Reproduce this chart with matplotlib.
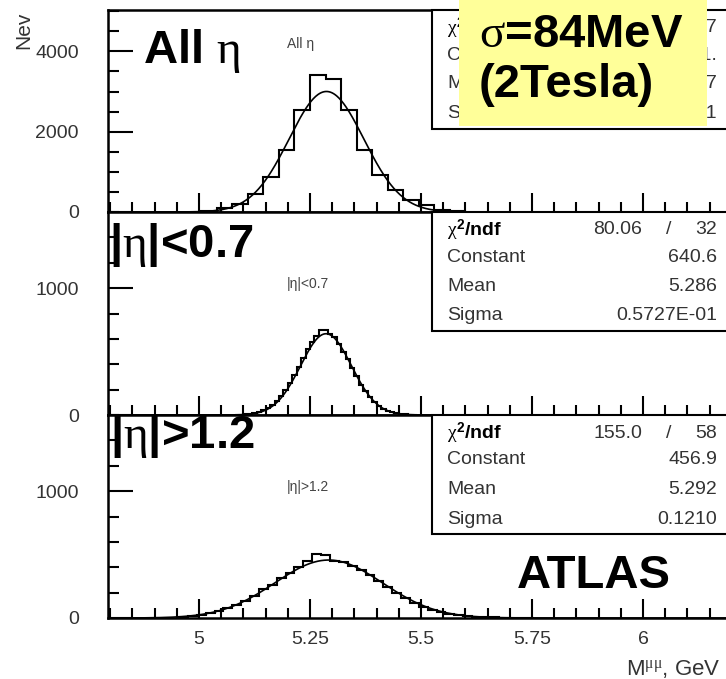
import numpy as np
import matplotlib
matplotlib.use("Agg")
import matplotlib.pyplot as plt
from matplotlib.patches import Rectangle
from matplotlib.ticker import MultipleLocator, FuncFormatter

plt.rcParams["font.family"] = ["Liberation Sans", "DejaVu Sans"]
plt.rcParams["mathtext.fontset"] = "custom"
plt.rcParams["mathtext.rm"] = "Liberation Sans:bold"
plt.rcParams["mathtext.bf"] = "Liberation Sans:bold"
plt.rcParams["mathtext.it"] = "Liberation Serif"

# --- data ---
# all eta: bins of 0.035 GeV starting at 5.005
all_start, all_width = 5.005, 0.035
all_counts = [20, 90, 210, 460, 860, 1550, 2550, 3400, 3300, 2550, 1550, 920,
              550, 300, 170, 60, 20]
all_fit = {"chi2": "376.4", "ndf": "17", "const": "3001.", "mean": "5.287", "sigma": "0.8411E-01"}

# |eta| < 0.7: bins of 0.01 GeV starting at 5.08
cen_start, cen_width = 5.08, 0.01
cen_counts = [2, 3, 6, 9, 15, 24, 38, 55, 80, 112, 150, 198, 252, 318, 380, 452,
              520, 575, 625, 672, 668, 640, 612, 560, 500, 440, 372, 305, 240,
              188, 140, 100, 72, 50, 32, 20, 13, 8, 4, 3, 1]
cen_fit = {"chi2": "80.06", "ndf": "32", "const": "640.6", "mean": "5.286", "sigma": "0.5727E-01"}

# |eta| > 1.2: bins of 0.02 GeV starting at 4.955
fwd_start, fwd_width = 4.955, 0.02
fwd_counts = [10, 16, 24, 38, 52, 75, 100, 135, 172, 225, 262, 312, 352, 405,
              448, 505, 495, 452, 440, 410, 375, 335, 290, 248, 200, 158, 118,
              90, 64, 45, 30, 20, 13, 9, 6, 4, 2, 2, 1, 1]
fwd_fit = {"chi2": "155.0", "ndf": "58", "const": "456.9", "mean": "5.292", "sigma": "0.1210"}

panel_titles = ["All η", "|η|<0.7", "|η|>1.2"]
big_labels = [r"All $\eta$", r"|$\eta$|<0.7", r"|$\eta$|>1.2"]

W, H = 726, 679
X0, X1 = 4.795, 6.2
PX_PER_GEV = 444.0
AX_LEFT = 108
AX_RIGHT = AX_LEFT + (X1 - X0) * PX_PER_GEV

fig = plt.figure(figsize=(W / 100, H / 100), dpi=100)


def ptext(x, y, s, **kw):
    return fig.text(x / W, 1 - y / H, s, **kw)


def make_axes(top, bottom):
    return fig.add_axes([AX_LEFT / W, 1 - bottom / H, (AX_RIGHT - AX_LEFT) / W, (bottom - top) / H])


def gauss(x, c, m, s):
    return c * np.exp(-0.5 * ((x - m) / s) ** 2)


panels = [
    (10, 212, all_start, all_width, all_counts, all_fit, 5030, 2000, 500),
    (212, 415, cen_start, cen_width, cen_counts, cen_fit, 1600, 1000, 200),
    (415, 618, fwd_start, fwd_width, fwd_counts, fwd_fit, 1600, 1000, 200),
]

fmt = FuncFormatter(lambda v, p: "%g" % v)
xs = np.linspace(X0, X1, 800)

for i, (top, bot, start, width, counts, fit, ymax, ymaj, ymin) in enumerate(panels):
    ax = make_axes(top, bot)
    edges = start + width * np.arange(len(counts) + 1)
    ax.stairs(counts, edges, color="black", linewidth=1.5)
    ax.plot(xs, gauss(xs, float(fit["const"]), float(fit["mean"]), float(fit["sigma"])),
            color="black", linewidth=1.2)
    ax.set_xlim(X0, X1)
    ax.set_ylim(0, ymax)
    ax.xaxis.set_major_locator(MultipleLocator(0.25))
    ax.xaxis.set_minor_locator(MultipleLocator(0.05))
    ax.yaxis.set_major_locator(MultipleLocator(ymaj))
    ax.yaxis.set_minor_locator(MultipleLocator(ymin))
    ax.xaxis.set_major_formatter(fmt)
    ax.yaxis.set_major_formatter(fmt)
    ax.tick_params(which="both", direction="in", top=False, right=False,
                   labelsize=14, labelcolor="#333333", width=1.5)
    ax.tick_params(axis="x", which="major", length=14, pad=9)
    ax.tick_params(axis="x", which="minor", length=7)
    ax.tick_params(axis="y", which="major", length=18, pad=21)
    ax.tick_params(axis="y", which="minor", length=8)
    if i < 2:
        ax.tick_params(labelbottom=False)
    for sp in ax.spines.values():
        sp.set_linewidth(1.8)

    # stats box
    box_h = 119
    ax.add_patch(Rectangle(((432 - AX_LEFT) / (AX_RIGHT - AX_LEFT), 1 - box_h / (bot - top)),
                           0.7, box_h / (bot - top), transform=ax.transAxes,
                           facecolor="white", edgecolor="black", linewidth=1.5,
                           zorder=5, clip_on=False))
    rows = [top + 18, top + 45, top + 74, top + 104]
    kw = dict(fontsize=14, color="#333333", va="center", zorder=6)
    ptext(447, rows[0], r"$\chi^2$/ndf", fontsize=14, fontweight="bold", va="center", zorder=6)
    ptext(642, rows[0], fit["chi2"], ha="right", **kw)
    ptext(669, rows[0], "/", ha="center", **kw)
    ptext(717, rows[0], fit["ndf"], ha="right", **kw)
    for r, name, key in zip(rows[1:], ["Constant", "Mean", "Sigma"], ["const", "mean", "sigma"]):
        ptext(447, r, name, **kw)
        ptext(717, r, fit[key], ha="right", **kw)

    # small histogram title
    ptext(287, top + 34 if i == 0 else top + 72, panel_titles[i], fontsize=10, color="#444444",
          va="center")

# big labels
ptext(143, 63, big_labels[0], fontsize=34, fontweight="bold", va="baseline", zorder=10)
ptext(109, 257, big_labels[1], fontsize=34, fontweight="bold", va="baseline", zorder=10)
ptext(110, 448, big_labels[2], fontsize=34, fontweight="bold", va="baseline", zorder=10)
ptext(517, 588, "ATLAS", fontsize=34, fontweight="bold", va="baseline", zorder=10)

# yellow note
fig.patches.append(Rectangle((459 / W, 1 - 126 / H), 248 / W, 126 / H, transform=fig.transFigure,
                             facecolor="#ffff99", edgecolor="none", zorder=20))
ptext(479, 47, r"$\sigma$=84MeV", fontsize=34, fontweight="bold", va="baseline", zorder=21)
ptext(479, 97, "(2Tesla)", fontsize=34, fontweight="bold", va="baseline", zorder=21)

# axis titles
ptext(24, 12, "Nev", fontsize=15, color="#333333", rotation=90, ha="center", va="top")
ptext(626, 675, r"M$^{\mu\mu}$, GeV", fontsize=16, color="#333333", va="baseline")

fig.savefig("out.png", dpi=100)
